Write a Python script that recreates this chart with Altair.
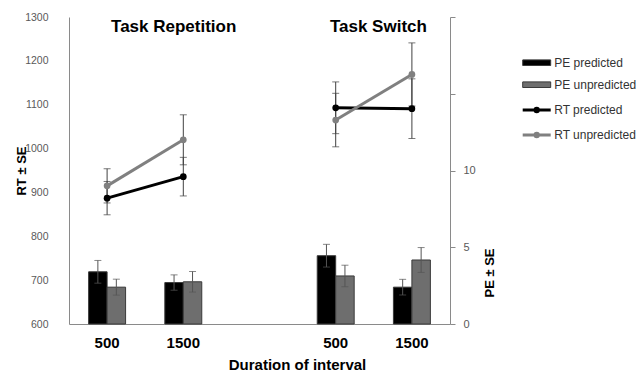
import altair as alt
import pandas as pd

# ---------------- data ----------------
tasks = ["Task Repetition", "Task Switch"]
durations = ["500", "1500"]
rt_series = ["RT predicted", "RT unpredicted"]
pe_series = ["PE predicted", "PE unpredicted"]

# condition order: Repetition 500, Repetition 1500, Switch 500, Switch 1500
rt_predicted = [887, 936, 1093, 1091]
rt_predicted_se = [38, 44, 59, 68]
rt_unpredicted = [915, 1020, 1065, 1169]
rt_unpredicted_se = [39, 57, 61, 72]

pe_predicted = [3.40, 2.70, 4.45, 2.40]
pe_predicted_se = [0.74, 0.50, 0.74, 0.51]
pe_unpredicted = [2.40, 2.75, 3.13, 4.17]
pe_unpredicted_se = [0.52, 0.67, 0.70, 0.81]

rt_ticks = [600, 700, 800, 900, 1000, 1100, 1200, 1300]
pe_ticks = [0, 5, 10, 15, 20]
pe_labelled = [0, 5, 10]

# ---------------- tables ----------------
conds = [(t, d) for t in tasks for d in durations]
keys = [f"{t}|{d}" for t, d in conds]
x_domain = keys[:2] + ["gap"] + keys[2:]

rt_rows = []
for name, vals, ses in [(rt_series[0], rt_predicted, rt_predicted_se),
                        (rt_series[1], rt_unpredicted, rt_unpredicted_se)]:
    for (t, d), k, v, s in zip(conds, keys, vals, ses):
        rt_rows.append({"key": k, "task": t, "series": name, "value": v, "se": s})
rt_df = pd.DataFrame(rt_rows)

pe_rows = []
for name, vals, ses in [(pe_series[0], pe_predicted, pe_predicted_se),
                        (pe_series[1], pe_unpredicted, pe_unpredicted_se)]:
    for (t, d), k, v, s in zip(conds, keys, vals, ses):
        pe_rows.append({"key": k, "task": t, "series": name, "value": v, "se": s})
pe_df = pd.DataFrame(pe_rows)

FONT = "Liberation Sans"
AXIS_GRAY = "#8a8a8a"
ERR = "#404040"

# ---------------- encodings ----------------
x_axis = alt.Axis(
    values=keys,
    labelExpr="split(datum.value, '|')[1]",
    title="Duration of interval",
    titleFontSize=15, titleFontWeight="bold", titleColor="#000000",
    titleX=228, titleY=45, titleAlign="center", titleBaseline="alphabetic",
    labelFontSize=15, labelFontWeight="bold", labelColor="#000000",
    labelPadding=11, labelAngle=0,
    ticks=False, tickSize=0, domainColor=AXIS_GRAY, grid=False,
)
x_scale = alt.Scale(domain=x_domain, paddingInner=0.515, paddingOuter=0.2575)


def xenc():
    return alt.X("key:N", scale=x_scale, axis=x_axis)


rt_scale = alt.Scale(domain=[600, 1300], nice=False, zero=False)
rt_axis = alt.Axis(
    orient="left", values=rt_ticks, format="d", grid=False, ticks=False, tickSize=0,
    domainColor=AXIS_GRAY, labelColor="#595959", labelFontSize=10.5, labelPadding=21,
    title="RT ± SE", titleFontSize=13, titleFontWeight="bold", titleColor="#000000",
    titleAngle=270, titleX=-44, titleY=153.5, titleAlign="center",
    titleBaseline="alphabetic",
)


def rty(field):
    return alt.Y(field, scale=rt_scale, axis=rt_axis, title="RT ± SE")


pe_scale = alt.Scale(domain=[0, 20], nice=False)
pe_axis = alt.Axis(
    orient="right", values=pe_ticks, format="d",
    labelExpr="indexof([" + ",".join(str(v) for v in pe_labelled) + "], datum.value) >= 0 ? datum.label : ''",
    grid=False, ticks=True, tickSize=5, tickColor=AXIS_GRAY,
    domainColor=AXIS_GRAY, labelColor="#595959", labelFontSize=11, labelPadding=8,
    title="PE ± SE", titleFontSize=13, titleFontWeight="bold", titleColor="#000000",
    titleAngle=270, titleX=43, titleY=255.5, titleAlign="center",
    titleBaseline="alphabetic",
)


def pey(field):
    return alt.Y(field, scale=pe_scale, axis=pe_axis, title="PE ± SE")


# ---------------- RT layer ----------------
rt_base = alt.Chart(rt_df).transform_calculate(
    lo="datum.value - datum.se", hi="datum.value + datum.se"
)
rt_color_scale = alt.Scale(domain=rt_series, range=["#000000", "#808080"])

rt_rule = rt_base.mark_rule(color=ERR, strokeWidth=1).encode(
    x=xenc(), y=rty("lo:Q"), y2="hi:Q"
)
rt_cap_lo = rt_base.mark_tick(color=ERR, size=7, thickness=1).encode(x=xenc(), y=rty("lo:Q"))
rt_cap_hi = rt_base.mark_tick(color=ERR, size=7, thickness=1).encode(x=xenc(), y=rty("hi:Q"))

rt_legend = alt.Legend(
    title=None, orient="none", legendX=459.2, legendY=84.5, padding=0,
    symbolType="M-2,0L2,0M-0.24,0A0.24,0.24,0,1,0,0.24,0A0.24,0.24,0,1,0,-0.24,0",
    symbolSize=196, symbolStrokeWidth=3,
    labelFont=FONT, labelFontSize=12, labelColor="#333333", labelOffset=9,
    rowPadding=8,
)
rt_line = rt_base.mark_line(strokeWidth=3).encode(
    x=xenc(), y=rty("value:Q"),
    color=alt.Color("series:N", scale=rt_color_scale, legend=rt_legend),
    detail="task:N",
)
rt_pts = rt_base.mark_point(filled=True, size=45, opacity=1).encode(
    x=xenc(), y=rty("value:Q"),
    color=alt.Color("series:N", scale=rt_color_scale, legend=None),
)

title_rep = alt.Chart(pd.DataFrame({"key": [keys[1]], "label": [tasks[0]]})).mark_text(
    font=FONT, fontSize=17, fontWeight="bold", color="#000000",
    align="center", baseline="alphabetic", dx=-9.6,
).encode(x=xenc(), y=alt.value(14.7), text="label:N")
title_sw = alt.Chart(pd.DataFrame({"key": [keys[2]], "label": [tasks[1]]})).mark_text(
    font=FONT, fontSize=17, fontWeight="bold", color="#000000",
    align="center", baseline="alphabetic", dx=42.7,
).encode(x=xenc(), y=alt.value(14.7), text="label:N")

rt_layer = alt.layer(rt_rule, rt_cap_lo, rt_cap_hi, rt_line, rt_pts, title_rep, title_sw)

# ---------------- PE layer ----------------
pe_base = alt.Chart(pe_df).transform_calculate(
    lo="datum.value - datum.se", hi="datum.value + datum.se"
)
pe_color_scale = alt.Scale(domain=pe_series, range=["#000000", "#6e6e6e"])
xoff = alt.XOffset("series:N", scale=alt.Scale(domain=pe_series, paddingInner=0, paddingOuter=0))

pe_legend = alt.Legend(
    title=None, orient="none", legendX=460.2, legendY=38.2, padding=0,
    symbolType="M-2,-0.4L2,-0.4L2,0.4L-2,0.4Z",
    symbolSize=196, symbolStrokeColor="#3a3a3a", symbolStrokeWidth=1,
    labelFont=FONT, labelFontSize=12, labelColor="#333333", labelOffset=10,
    rowPadding=8,
)
pe_bar = pe_base.mark_bar(stroke="#3a3a3a", strokeWidth=1).encode(
    x=xenc(), xOffset=xoff, y=pey("value:Q"),
    color=alt.Color("series:N", scale=pe_color_scale, legend=pe_legend),
)
pe_rule = pe_base.mark_rule(color="#555555", strokeWidth=1).encode(
    x=xenc(), xOffset=xoff, y=pey("lo:Q"), y2="hi:Q"
)
pe_cap_lo = pe_base.mark_tick(color="#555555", size=7, thickness=1).encode(
    x=xenc(), xOffset=xoff, y=pey("lo:Q")
)
pe_cap_hi = pe_base.mark_tick(color="#555555", size=7, thickness=1).encode(
    x=xenc(), xOffset=xoff, y=pey("hi:Q")
)
pe_layer = alt.layer(pe_bar, pe_rule, pe_cap_lo, pe_cap_hi)

chart = (
    alt.layer(pe_layer, rt_layer)
    .resolve_scale(y="independent", color="independent")
    .properties(
        width=381, height=307,
        autosize=alt.AutoSizeParams(type="none"),
        padding={"left": 61, "top": 9, "right": 186, "bottom": 50},
        background="#ffffff",
    )
    .configure(font=FONT)
    .configure_view(stroke=None)
)

chart.save("out.html", embed_options={"renderer": "svg", "actions": False})
